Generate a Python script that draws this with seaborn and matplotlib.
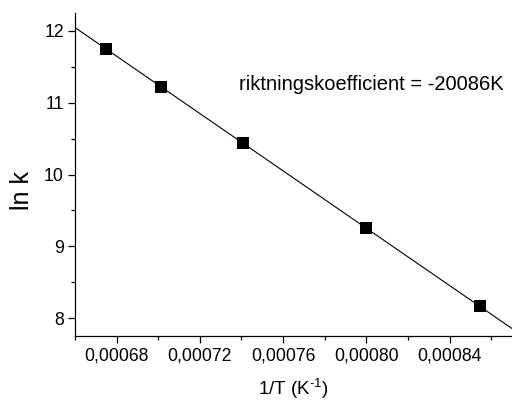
import numpy as np
import pandas as pd
import matplotlib
matplotlib.use("Agg")
import matplotlib.pyplot as plt
from matplotlib.ticker import FuncFormatter, MultipleLocator
import seaborn as sns

# Data
inv_T = [0.000675, 0.0007015, 0.0007406, 0.000800, 0.0008544]
ln_k = [11.746, 11.218, 10.44, 9.256, 8.162]
x_ticks = [0.00068, 0.00072, 0.00076, 0.00080, 0.00084]
y_ticks = [8, 9, 10, 11, 12]
annotation = "riktningskoefficient = -20086K"

sns.set_theme(style="ticks")
plt.rcParams['font.family'] = ['Liberation Sans', 'DejaVu Sans']
plt.rcParams['mathtext.fontset'] = 'custom'
plt.rcParams['mathtext.rm'] = 'Liberation Sans'
plt.rcParams['mathtext.it'] = 'Liberation Sans'
plt.rcParams['mathtext.bf'] = 'Liberation Sans'

df = pd.DataFrame({"inv_T": inv_T, "ln_k": ln_k})

fig = plt.figure(figsize=(5.12, 4.00), dpi=100)
ax = fig.add_axes([0.1465, 0.16, 0.8535, 0.8075])
ax.set_xlim(0.00066, 0.00087)
ax.set_ylim(7.75, 12.25)

sns.regplot(data=df, x="inv_T", y="ln_k", ax=ax, scatter=False, ci=None,
            truncate=False, color="black", line_kws={"linewidth": 0.8})
sns.scatterplot(data=df, x="inv_T", y="ln_k", ax=ax, marker="s", s=75,
                color="black", edgecolor="black", linewidth=0, zorder=3)

ax.set_xlim(0.00066, 0.00087)
ax.set_ylim(7.75, 12.25)
ax.set_xticks(x_ticks)
ax.set_yticks(y_ticks)
ax.xaxis.set_minor_locator(MultipleLocator(0.00002))
ax.yaxis.set_minor_locator(MultipleLocator(0.5))
ax.xaxis.set_major_formatter(FuncFormatter(lambda v, p: f"{v:.5f}".replace('.', ',')))
ax.yaxis.set_major_formatter(FuncFormatter(lambda v, p: f"{v:.0f}"))

ax.tick_params(which="major", direction="out", length=5, width=0.9,
               labelsize=12.7, colors="black", pad=3)
ax.tick_params(which="minor", direction="out", length=3, width=0.9, colors="black")

for s in ["top", "right"]:
    ax.spines[s].set_visible(False)
for s in ["left", "bottom"]:
    ax.spines[s].set_linewidth(0.9)
    ax.spines[s].set_color("black")

ax.set_xlabel(r"1/T (K$^{\text{-}\mathregular{1}}$)", fontsize=13.5, color="black", labelpad=9)
ax.set_ylabel("ln k", fontsize=18, color="black")
ax.yaxis.set_label_coords(-0.094, 0.449)

ax.text(0.000739, 11.26, annotation, fontsize=14.5, color="black",
        ha="left", va="center")

fig.savefig("out.png", dpi=100)
